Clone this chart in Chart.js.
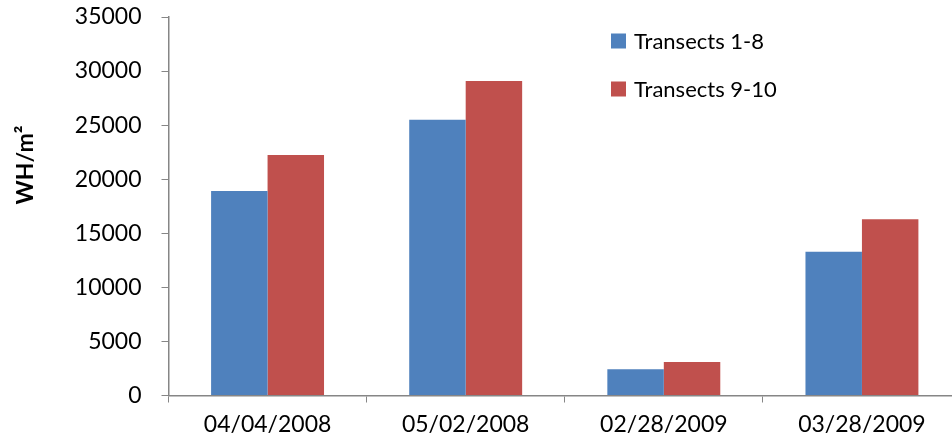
<!DOCTYPE html>
<html>
<head>
<meta charset="utf-8">
<script src="https://cdn.jsdelivr.net/npm/chart.js@4/dist/chart.umd.min.js"></script>
<style>
html,body{margin:0;padding:0;background:#fff;overflow:hidden;}
#wrap{position:absolute;left:0;top:0;width:961px;height:446px;}
</style>
</head>
<body>
<div id="wrap"><canvas id="c" width="961" height="446"></canvas></div>
<script>
const categories = ["04/04/2008", "05/02/2008", "02/28/2009", "03/28/2009"];
const seriesNames = ["Transects 1-8", "Transects 9-10"];
const transects1to8 = [18900, 25500, 2420, 13300];
const transects9to10 = [22240, 29080, 3100, 16290];
const yTicks = [0, 5000, 10000, 15000, 20000, 25000, 30000, 35000];
const yTitle = "WH/m²";
const colors = ["#4F81BD", "#C0504D"];

const FONT = "Lato";

const textPlugin = {
  id: 'insideLegendAndTitle',
  afterDraw(chart) {
    const ctx = chart.ctx;
    ctx.save();
    ctx.font = "22px " + FONT;
    ctx.textBaseline = "middle";
    ctx.textAlign = "left";
    const rows = [41, 89];
    chart.data.datasets.forEach((ds, i) => {
      const cy = rows[i];
      ctx.fillStyle = ds.backgroundColor;
      ctx.fillRect(611, cy - 7.5, 15, 15);
      ctx.fillStyle = "#000";
      ctx.fillText(ds.label, 634, cy + 1);
    });
    ctx.restore();
    // y-axis title
    ctx.save();
    ctx.translate(25, 165);
    ctx.rotate(-Math.PI / 2);
    ctx.font = "bold 23px " + FONT;
    ctx.textAlign = "center";
    ctx.textBaseline = "middle";
    ctx.fillStyle = "#000";
    ctx.fillText(yTitle, 0, 1);
    ctx.restore();
  }
};

new Chart(document.getElementById('c'), {
  type: 'bar',
  data: {
    labels: categories,
    datasets: [
      { label: seriesNames[0], data: transects1to8, backgroundColor: colors[0], borderWidth: 0 },
      { label: seriesNames[1], data: transects9to10, backgroundColor: colors[1], borderWidth: 0 }
    ]
  },
  options: {
    responsive: false,
    animation: false,
    devicePixelRatio: 1,
    layout: { padding: { top: 17, right: 0, left: 0, bottom: 0 } },
    plugins: { legend: { display: false }, tooltip: { enabled: false } },
    datasets: { bar: { categoryPercentage: 0.57, barPercentage: 1.0 } },
    scales: {
      x: {
        offset: true,
        grid: { display: true, drawOnChartArea: false, offset: true, tickLength: 7, color: "#868686", lineWidth: 1 },
        border: { display: true, color: "#868686", width: 1.5 },
        ticks: { color: "#000", font: { family: FONT, size: 23 }, padding: 8, maxRotation: 0, autoSkip: false },
        afterFit(s) { s.height = 50.5; }
      },
      y: {
        min: 0, max: 35000,
        afterBuildTicks(s) { s.ticks = yTicks.map(v => ({ value: v })); },
        grid: { display: true, drawOnChartArea: false, tickLength: 7, color: "#868686", lineWidth: 1 },
        border: { display: true, color: "#868686", width: 1.5 },
        ticks: { color: "#000", font: { family: FONT, size: 23 }, padding: 20, callback: v => String(v) },
        title: { display: false },
        afterFit(s) { s.width = 168.5; s.paddingTop = 0; s.paddingBottom = 0; }
      }
    }
  },
  plugins: [textPlugin]
});
</script>
</body>
</html>
